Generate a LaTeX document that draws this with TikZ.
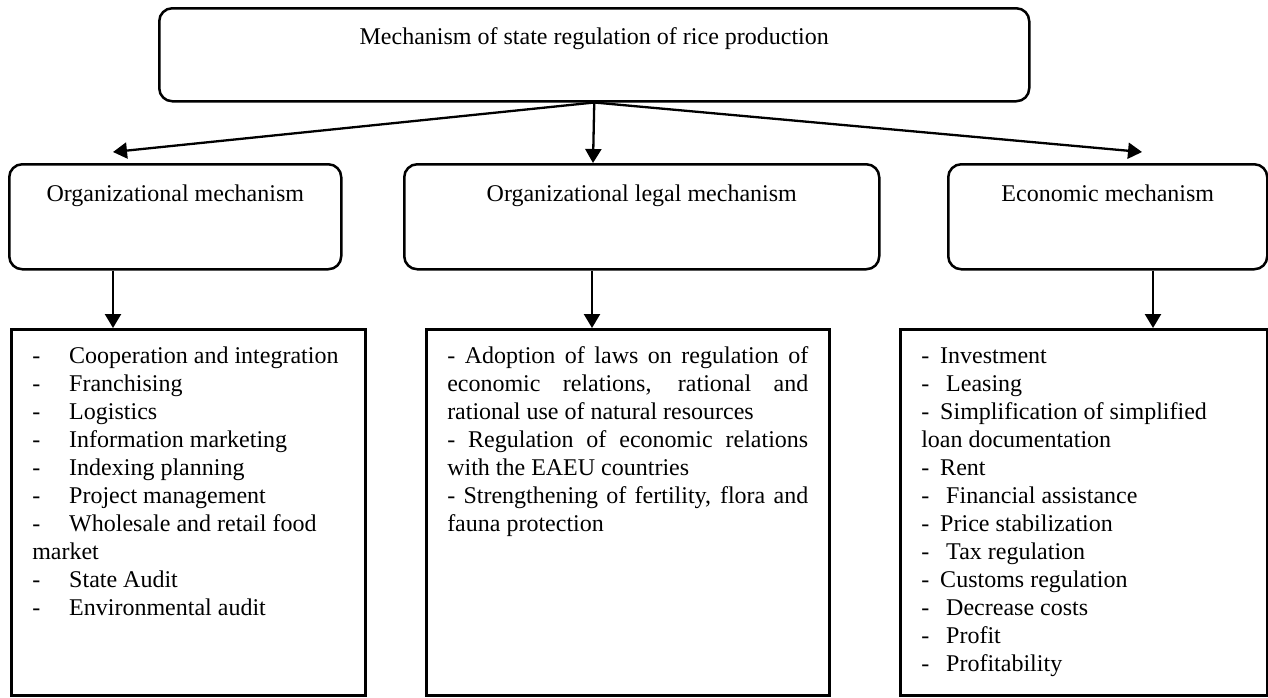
\documentclass[tikz,border=0pt]{standalone}
\usepackage{fontspec}
\setmainfont{Liberation Serif}
\usetikzlibrary{arrows.meta,calc}
\newcommand{\boxcontent}[3]{\parbox[c][#2][t]{#1}{#3}}
\newcommand{\dsh}[1]{\makebox[#1][l]{-}}
\begin{document}
\begin{tikzpicture}[x=1pt,y=-1pt,
  every node/.style={font=\fontsize{24}{28}\selectfont},
  headbox/.style={draw, line width=2.5pt, rounded corners=13pt, inner sep=0pt, anchor=north west},
  listbox/.style={draw, line width=2.5pt, inner ysep=0pt, inner xsep=21pt, anchor=north west},
  arr/.style={line width=2.3pt, -{Triangle[length=14pt,width=16pt]}}]
\fill[white] (0,0) rectangle (1268,697);
\useasboundingbox (0,0) rectangle (1268,697);

% top box
\node[headbox] (top) at (158,7) {\boxcontent{870pt}{93pt}{\centering\rule{0pt}{36pt}Mechanism of state regulation of rice production\par}};

% middle level
\node[headbox] (org) at (8,163) {\boxcontent{332pt}{105pt}{\centering\rule{0pt}{37pt}Organizational mechanism\par}};
\node[headbox] (legal) at (403,163) {\boxcontent{475pt}{105pt}{\centering\rule{0pt}{37pt}Organizational legal mechanism\par}};
\node[headbox] (econ) at (947,163) {\boxcontent{319pt}{105pt}{\centering\rule{0pt}{37pt}Economic mechanism\par}};

% bottom level
\node[listbox] (orglist) at (10,328) {\boxcontent{312pt}{366pt}{\raggedright
\rule{0pt}{34pt}\dsh{37pt}Cooperation and integration\\
\dsh{37pt}Franchising\\
\dsh{37pt}Logistics\\
\dsh{37pt}Information marketing\\
\dsh{37pt}Indexing planning\\
\dsh{37pt}Project management\\
\dsh{37pt}Wholesale and retail food\\
market\\
\dsh{37pt}State Audit\\
\dsh{37pt}Environmental audit\par}};

\node[listbox] (legallist) at (425,328) {\boxcontent{361pt}{366pt}{\raggedright
\rule{0pt}{34pt}\makebox[\linewidth][s]{- Adoption of laws on regulation of}\\
\makebox[\linewidth][s]{economic relations, rational and}\\
rational use of natural resources\\
\makebox[\linewidth][s]{- Regulation of economic relations}\\
with the EAEU countries\\
\makebox[\linewidth][s]{- Strengthening of fertility, flora and}\\
fauna protection\par}};

\node[listbox] (econlist) at (899,328) {\boxcontent{325pt}{366pt}{\raggedright
\rule{0pt}{34pt}\dsh{19pt}Investment\\
\dsh{25pt}Leasing\\
\dsh{19pt}Simplification of simplified\\
loan documentation\\
\dsh{19pt}Rent\\
\dsh{25pt}Financial assistance\\
\dsh{19pt}Price stabilization\\
\dsh{25pt}Tax regulation\\
\dsh{19pt}Customs regulation\\
\dsh{25pt}Decrease costs\\
\dsh{25pt}Profit\\
\dsh{25pt}Profitability\par}};

% connector ends
\coordinate (tipL) at (113,152);
\coordinate (tipM) at (593,163);
\coordinate (tipR) at (1142,152);
\coordinate (colL) at (113,0);
\coordinate (colM) at (592,0);
\coordinate (colR) at (1153,0);

\draw[arr] (top.south) -- (tipL);
\draw[arr] (top.south) -- (tipM);
\draw[arr] (top.south) -- (tipR);

\draw[arr] (colL |- org.south) -- (colL |- orglist.north);
\draw[arr] (colM |- legal.south) -- (colM |- legallist.north);
\draw[arr] (colR |- econ.south) -- (colR |- econlist.north);
\end{tikzpicture}
\end{document}
